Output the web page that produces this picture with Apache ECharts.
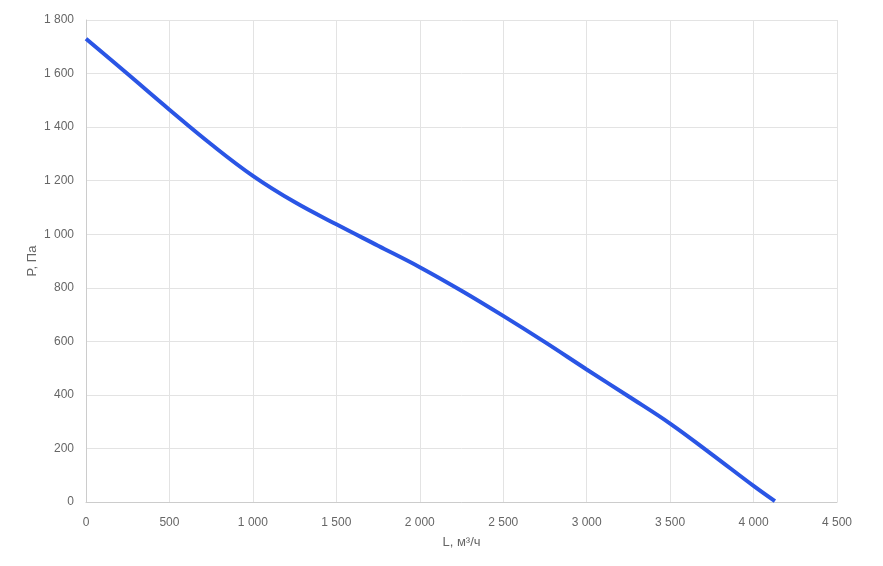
<!DOCTYPE html>
<html><head><meta charset="utf-8">
<script src="https://cdn.jsdelivr.net/npm/echarts@6/dist/echarts.min.js"></script>
<style>html,body{margin:0;padding:0;background:#fff}#c{width:883px;height:566px}</style>
</head><body><div id="c"></div>
<script>
const flowL = [0, 250, 500, 750, 1000, 1250, 1500, 1750, 2000, 2250, 2500, 2750, 3000, 3250, 3500, 3750, 4000, 4128];
const pressureP = [1730, 1598, 1465, 1336, 1218, 1120, 1037, 957, 877, 789, 695, 597, 495, 395, 293, 178, 60, 3];
const xName = 'L, м³/ч';
const yName = 'P, Па';
const fmt = v => String(v).replace(/\B(?=(\d{3})+(?!\d))/g, ' ');
const chart = echarts.init(document.getElementById('c'));
chart.setOption({
  animation: false,
  grid: {left: 86, right: 46, top: 20, bottom: 64},
  xAxis: {
    type: 'value', min: 0, max: 4500, interval: 500,
    name: xName, nameLocation: 'middle', nameGap: 34, nameMoveOverlap: false,
    nameTextStyle: {color: '#666', fontSize: 13, fontFamily: 'Arial'},
    axisLine: {show: true, lineStyle: {color: '#ccc'}},
    axisTick: {show: false},
    axisLabel: {color: '#666', fontSize: 12, fontFamily: 'Arial', margin: 15, formatter: fmt},
    splitLine: {show: true, lineStyle: {color: '#e3e3e3'}}
  },
  yAxis: {
    type: 'value', min: 0, max: 1800, interval: 200,
    name: yName, nameLocation: 'middle', nameGap: 47, nameRotate: 90, nameMoveOverlap: false,
    nameTextStyle: {color: '#666', fontSize: 13, fontFamily: 'Arial'},
    axisLine: {show: true, lineStyle: {color: '#ccc'}},
    axisTick: {show: false},
    axisLabel: {color: '#666', fontSize: 12, fontFamily: 'Arial', margin: 12, formatter: fmt},
    splitLine: {show: true, lineStyle: {color: '#e3e3e3'}}
  },
  series: [{
    type: 'line', smooth: 0.4, symbol: 'none',
    data: flowL.map((x, i) => [x, pressureP[i]]),
    lineStyle: {color: '#2a55e5', width: 4}
  }]
});
</script></body></html>
